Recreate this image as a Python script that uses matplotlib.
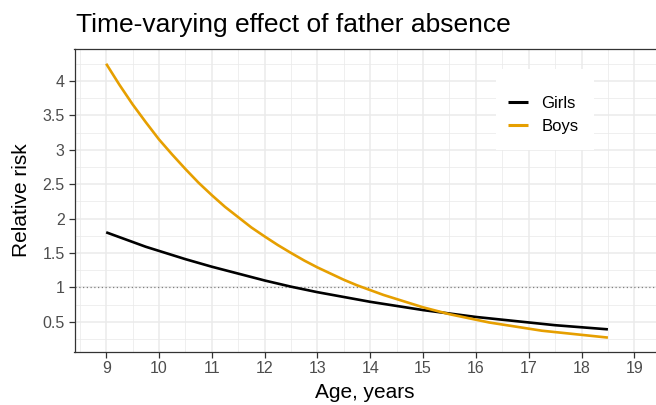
import matplotlib
matplotlib.use("Agg")
import matplotlib.pyplot as plt
from matplotlib.ticker import MultipleLocator, FuncFormatter
from matplotlib.patches import Rectangle

plt.rcParams['font.family'] = ['Liberation Sans', 'DejaVu Sans']

# values, quarter-year steps
age = [9, 9.25, 9.5, 9.75, 10, 10.25, 10.5, 10.75, 11, 11.25, 11.5, 11.75,
       12, 12.25, 12.5, 12.75, 13, 13.25, 13.5, 13.75, 14, 14.25, 14.5,
       14.75, 15, 15.25, 15.5, 15.75, 16, 16.25, 16.5, 16.75, 17, 17.25,
       17.5, 17.75, 18, 18.25, 18.5]
girls = [1.80, 1.73, 1.66, 1.59, 1.53, 1.47, 1.41, 1.355, 1.30, 1.25, 1.20,
         1.15, 1.10, 1.055, 1.01, 0.97, 0.93, 0.895, 0.86, 0.825, 0.79, 0.76,
         0.73, 0.70, 0.67, 0.645, 0.62, 0.595, 0.57, 0.55, 0.53, 0.51, 0.49,
         0.47, 0.45, 0.435, 0.42, 0.405, 0.39]
boys = [4.25, 3.945, 3.66, 3.40, 3.15, 2.93, 2.72, 2.52, 2.34, 2.17, 2.02,
        1.87, 1.74, 1.615, 1.50, 1.39, 1.29, 1.20, 1.11, 1.03, 0.96, 0.89,
        0.83, 0.77, 0.71, 0.66, 0.61, 0.57, 0.53, 0.49, 0.46, 0.43, 0.40,
        0.37, 0.35, 0.33, 0.31, 0.29, 0.27]
series_names = ['Girls', 'Boys']
series_colors = ['#000000', '#E69F00']
title = 'Time-varying effect of father absence'

fig = plt.figure(figsize=(6.56, 4.05), dpi=100)
W, H = 656, 405
ax = fig.add_axes([74.5 / W, (H - 351.7) / H, 582 / W, 302.4 / H])

# grid like ggplot theme_bw
ax.set_axisbelow(True)
ax.xaxis.set_major_locator(MultipleLocator(1))
ax.xaxis.set_minor_locator(MultipleLocator(0.5))
ax.yaxis.set_major_locator(MultipleLocator(0.5))
ax.yaxis.set_minor_locator(MultipleLocator(0.25))
ax.grid(which='major', color='#EBEBEB', lw=1.1)
ax.grid(which='minor', color='#EBEBEB', lw=0.55)

ax.axhline(1, color='#808080', lw=0.9, ls=(0, (1, 2)), zorder=2)

for name, vals, col in zip(series_names, [girls, boys], series_colors):
    ax.plot(age, vals, color=col, lw=1.9, label=name, zorder=3,
            solid_capstyle='butt', solid_joinstyle='round')

ax.set_xlim(8.40, 19.42)
ax.set_ylim(0.065, 4.46)

ax.yaxis.set_major_formatter(FuncFormatter(lambda v, p: ('%g' % v)))
ax.tick_params(which='major', length=4.5, width=0.9, color='#333333',
               labelsize=11.5, labelcolor='#4D4D4D', pad=2.5)
ax.tick_params(which='minor', length=0)

for s in ['left', 'top', 'bottom']:
    ax.spines[s].set_color('#333333')
    ax.spines[s].set_linewidth(0.9)
ax.spines['right'].set_visible(False)

# legend with white key box
ax.add_patch(Rectangle((0.725, 0.667), 0.167, 0.268, transform=ax.transAxes,
                       facecolor='white', edgecolor='none', zorder=4))
leg = ax.legend(loc='center left', bbox_to_anchor=(0.745, 1 - (115 - 49.3) / 302.4),
                frameon=False, fontsize=12, handlelength=1.2,
                handletextpad=0.8, labelspacing=0.45, borderpad=0,
                borderaxespad=0)
leg.set_zorder(5)
for ln in leg.get_lines():
    ln.set_linewidth(2.2)

fig.text(76 / W, 1 - 32 / H, title, fontsize=19, ha='left', va='baseline')
fig.text(365 / W, 1 - 392 / H, 'Age, years', fontsize=15, ha='center',
         va='center')
fig.text(22 / W, 1 - 200 / H, 'Relative risk', fontsize=15, ha='center',
         va='center', rotation=90)

fig.savefig('out.png', dpi=100)
